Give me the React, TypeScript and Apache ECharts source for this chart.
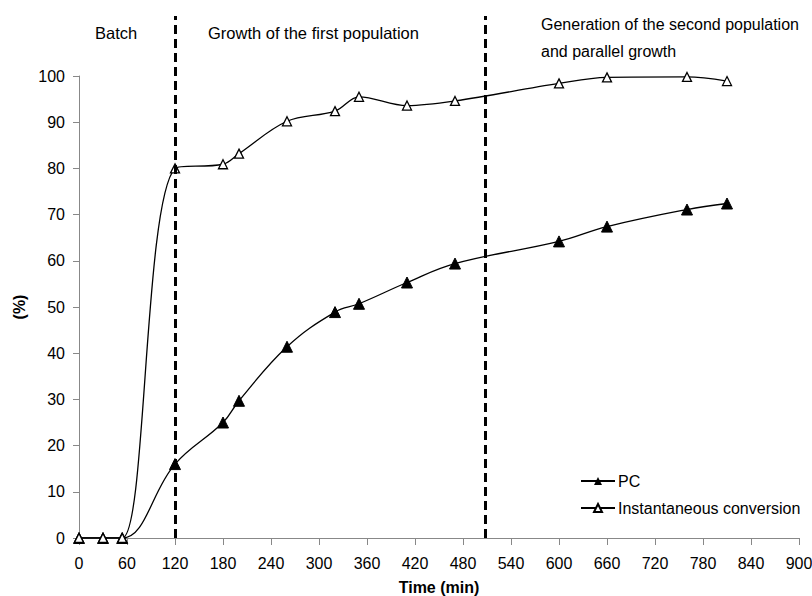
import React, { useEffect, useRef } from "react";
import * as echarts from "echarts";

const times = [0, 30, 54, 120, 180, 200, 260, 320, 350, 410, 470, 600, 660, 760, 810];
const pcValues = [0, 0, 0, 16, 25, 29.7, 41.4, 48.9, 50.7, 55.3, 59.4, 64.2, 67.4, 71.1, 72.4];
const icValues = [0, 0, 0, 80, 80.9, 83.2, 90.2, 92.4, 95.5, 93.6, 94.6, 98.4, 99.7, 99.8, 98.9];
const phaseBoundaries = [120, 508];
const phaseLabels = ["Batch", "Growth of the first population", "Generation of the second population\nand parallel growth"];

const FONT = "Liberation Sans, Arial, sans-serif";

export default function App() {
  const ref = useRef<HTMLDivElement>(null);
  useEffect(() => {
    if (!ref.current) return;
    const chart = echarts.init(ref.current, undefined, { renderer: "svg" });
    chart.setOption({
      animation: false,
      backgroundColor: "#fff",
      textStyle: { fontFamily: FONT },
      grid: [
        { left: 79, right: 13, top: 76, bottom: 58, outerBoundsMode: "none", containLabel: false },
        { left: 79, right: 13, top: 16, bottom: 58, outerBoundsMode: "none", containLabel: false },
      ],
      legend: {
        orient: "vertical",
        left: 580,
        top: 473,
        padding: 0,
        itemWidth: 34,
        itemHeight: 10,
        itemGap: 11,
        textStyle: { fontFamily: FONT, fontSize: 16, color: "#000", padding: [0, 0, 0, -2] },
        data: ["PC", "Instantaneous conversion"],
      },
      xAxis: [
        {
          type: "value",
          gridIndex: 0,
          min: 0,
          max: 900,
          interval: 60,
          name: "Time (min)",
          nameLocation: "middle",
          nameGap: 41,
          nameTextStyle: { fontFamily: FONT, fontSize: 16, fontWeight: "bold", color: "#000" },
          axisLine: { lineStyle: { color: "#888", width: 1 } },
          axisTick: { lineStyle: { color: "#888" }, length: 7 },
          axisLabel: { fontFamily: FONT, fontSize: 16, color: "#000", margin: 17 },
          splitLine: { show: false },
        },
        { type: "value", gridIndex: 1, min: 0, max: 900, show: false },
      ],
      yAxis: [
        {
          type: "value",
          gridIndex: 0,
          min: 0,
          max: 100,
          interval: 10,
          name: "(%)",
          nameLocation: "middle",
          nameGap: 48,
          nameTextStyle: { fontFamily: FONT, fontSize: 16, fontWeight: "bold", color: "#000" },
          axisLine: { show: true, lineStyle: { color: "#888", width: 1 } },
          axisTick: { show: true, lineStyle: { color: "#888" }, length: 6 },
          axisLabel: { fontFamily: FONT, fontSize: 16, color: "#000", margin: 14 },
          splitLine: { show: false },
        },
        { type: "value", gridIndex: 1, min: 0, max: 1, show: false },
      ],
      graphic: [
        { type: "text", left: 95, top: 24, style: { text: phaseLabels[0], font: `16.5px ${FONT}`, fill: "#000" } },
        { type: "text", left: 208, top: 24, style: { text: phaseLabels[1], font: `16.5px ${FONT}`, fill: "#000" } },
        {
          type: "text",
          left: 541,
          top: 11,
          style: { text: phaseLabels[2], font: `16px ${FONT}`, fill: "#000", align: "center", lineHeight: 27 },
        },
      ],
      series: [
        {
          name: "PC",
          type: "line",
          xAxisIndex: 0,
          yAxisIndex: 0,
          data: times.map((t, i) => [t, pcValues[i]]),
          smooth: 0.4,
          symbol: "triangle",
          symbolSize: 11,
          itemStyle: { color: "#000", borderColor: "#000" },
          lineStyle: { color: "#000", width: 1.3 },
          z: 3,
        },
        {
          name: "Instantaneous conversion",
          type: "line",
          xAxisIndex: 0,
          yAxisIndex: 0,
          data: times.map((t, i) => [t, icValues[i]]),
          smooth: 0.35,
          symbol: "triangle",
          symbolSize: 9,
          itemStyle: { color: "#fff", borderColor: "#000", borderWidth: 1.3 },
          lineStyle: { color: "#000", width: 1.3 },
          z: 4,
        },
        {
          name: "phases",
          type: "line",
          xAxisIndex: 1,
          yAxisIndex: 1,
          data: [],
          markLine: {
            symbol: "none",
            silent: true,
            label: { show: false },
            lineStyle: { color: "#000", width: 3, type: [9, 5] },
            data: phaseBoundaries.map((b) => ({ xAxis: b })),
          },
          z: 2,
        },
      ],
    });
    return () => chart.dispose();
  }, []);
  return (
    <div
      ref={ref}
      style={{ position: "fixed", left: 0, top: 0, width: 812, height: 596, overflow: "hidden" }}
    />
  );
}
